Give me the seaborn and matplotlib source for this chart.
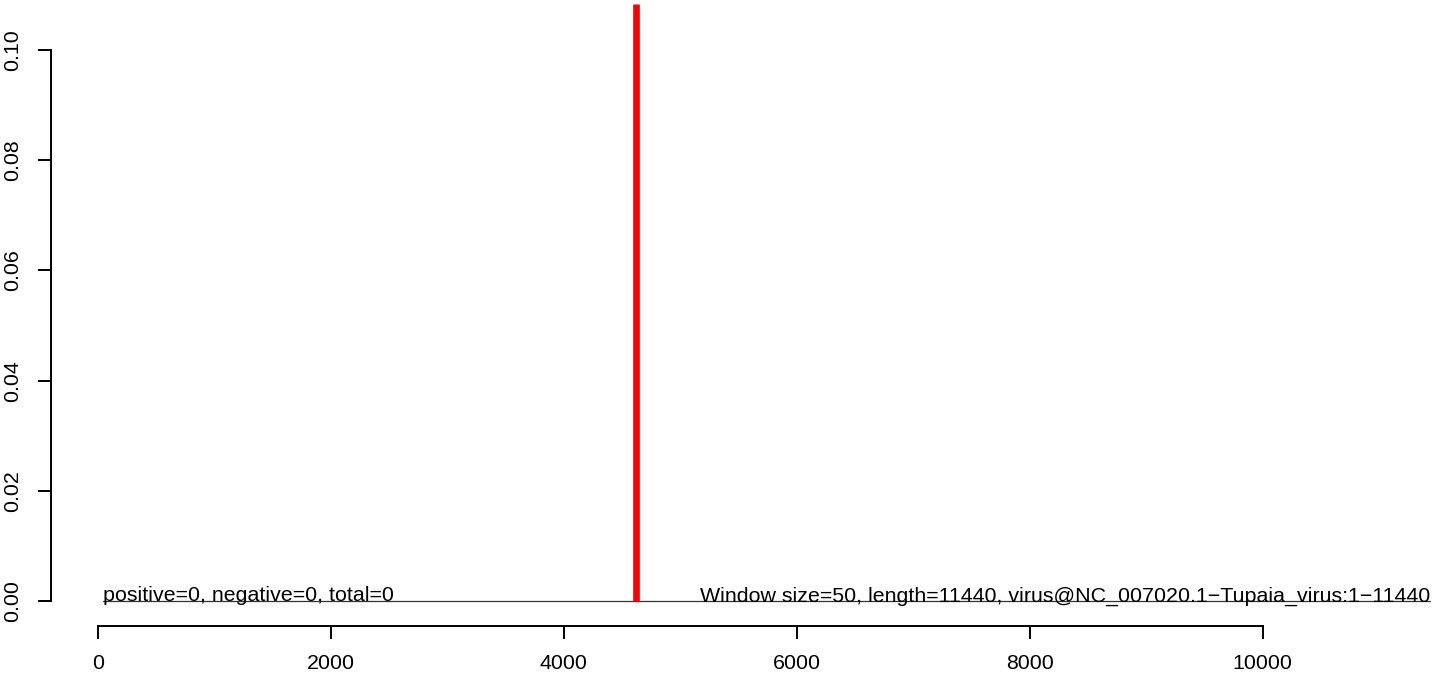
#!/usr/bin/env python3
"""
Window plot of breakpoints along a viral genome (recreated in seaborn).
"""

import matplotlib
matplotlib.use("Agg")
import matplotlib.pyplot as plt
import seaborn as sns

# data
window_pos = [50, 11440]          # start / end of the scanned region
window_val = [0.0, 0.0]           # per-window score (all zero)
breakpoints = [4625]              # position marked in red
x_ticks = [0, 2000, 4000, 6000, 8000, 10000]
y_ticks = [0.00, 0.02, 0.04, 0.06, 0.08, 0.10]
left_label = "positive=0, negative=0, total=0"
right_label = "Window size=50, length=11440, virus@NC_007020.1\u2212Tupaia_virus:1\u221211440"


def main():
    sns.set_theme(style="ticks")
    plt.rcParams['font.family'] = ['Liberation Sans', 'DejaVu Sans']
    fs = 15.4

    fig = plt.figure(figsize=(14.44, 6.76), dpi=100)
    ax = fig.add_axes([0.0351, 0.0740, 0.9649, 0.9201])

    ymin, ymax = -0.00448, 0.10834

    sns.lineplot(x=window_pos, y=window_val, ax=ax, color='#333333', linewidth=0.9)
    # red marks from the baseline up to the top of the plot region
    ax.vlines(breakpoints, 0, ymax, color='#ff0000', linewidth=4.8)

    ax.text(window_pos[0], 0, left_label, ha='left', va='baseline', fontsize=fs, color='black')
    ax.text(window_pos[-1], 0, right_label, ha='right', va='baseline', fontsize=fs, color='black')

    ax.set_xlim(-403, 11556)
    ax.set_ylim(ymin, ymax)
    ax.set_xticks(x_ticks)
    ax.set_xticklabels([str(t) for t in x_ticks])
    ax.set_yticks(y_ticks)
    ax.set_yticklabels([f"{t:.2f}" for t in y_ticks], rotation=90, va='center')

    sns.despine(ax=ax)
    ax.spines['left'].set_bounds(y_ticks[0], y_ticks[-1])
    ax.spines['bottom'].set_bounds(x_ticks[0], x_ticks[-1])
    for s in ('left', 'bottom'):
        ax.spines[s].set_linewidth(1.4)
        ax.spines[s].set_color('black')
    ax.tick_params(axis='both', length=9.4, width=1.4, color='black',
                   labelsize=fs, labelcolor='black')
    ax.tick_params(axis='x', pad=10.5)
    ax.tick_params(axis='y', pad=11)
    ax.set_xlabel('')
    ax.set_ylabel('')
    ax.grid(False)

    fig.savefig('out.png', dpi=100)


if __name__ == "__main__":
    main()
